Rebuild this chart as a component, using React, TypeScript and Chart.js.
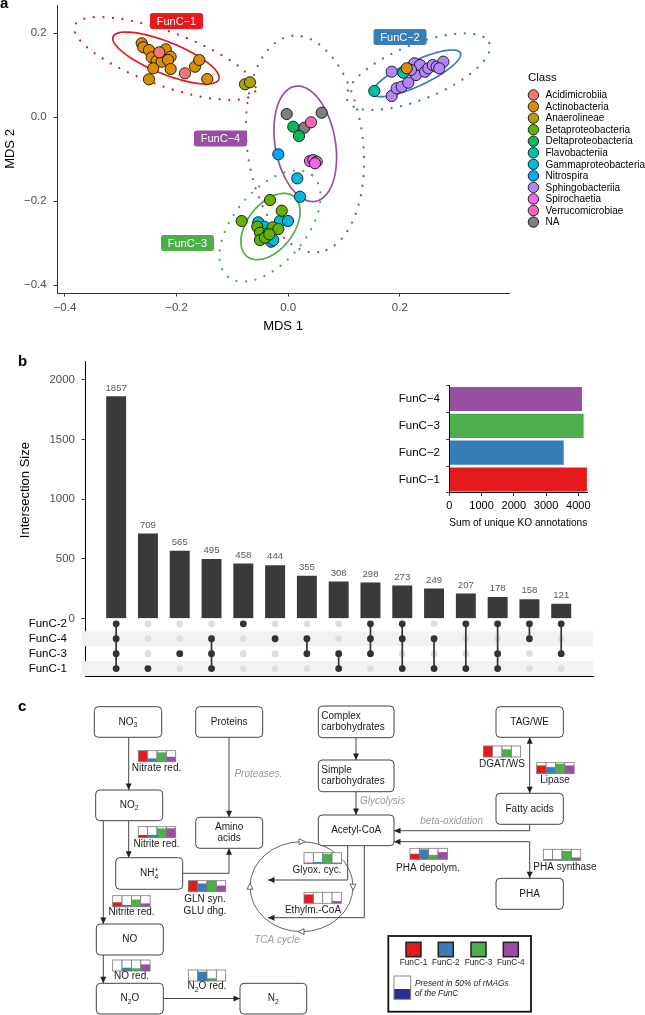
import React, { useEffect, useRef } from "react";
import { Chart, registerables } from "chart.js";

Chart.register(...registerables);

const FONT = "'Liberation Sans', Arial, Helvetica, sans-serif";
Chart.defaults.font.family = FONT;

// ================= Panel a : MDS ordination =================
const classNames = ["Acidimicrobiia", "Actinobacteria", "Anaerolineae", "Betaproteobacteria", "Deltaproteobacteria", "Flavobacteriia", "Gammaproteobacteria", "Nitrospira", "Sphingobacteriia", "Spirochaetia", "Verrucomicrobiae", "NA"];
const classColors = ["#F8766D", "#DB8E00", "#AEA200", "#64B200", "#00BD5C", "#00C1A7", "#00BADE", "#00A6FF", "#B385FF", "#EF67EB", "#FF63B6", "#7F7F7F"];

const acidimicrobiiaMDS = [[-0.231, 0.154], [-0.185, 0.104]];
const actinobacteriaMDS = [[-0.2625, 0.1755], [-0.2597, 0.166], [-0.2495, 0.1595], [-0.2405, 0.1398], [-0.2195, 0.1612], [-0.2106, 0.1436], [-0.2446, 0.1421], [-0.2357, 0.1333], [-0.2267, 0.1317], [-0.2154, 0.1357], [-0.2418, 0.116], [-0.2106, 0.1143], [-0.167, 0.1198], [-0.1593, 0.1357], [-0.2495, 0.0898], [-0.145, 0.0905], [0.2124, 0.116]];
const anaerolineaeMDS = [[-0.0774, 0.0779], [-0.0685, 0.0826]];
const betaproteobacteriaMDS = [[-0.0326, -0.1976], [-0.0833, -0.2476], [-0.0116, -0.2231], [-0.0554, -0.2612], [-0.0505, -0.2755], [-0.0357, -0.2769], [-0.0278, -0.2626], [-0.0177, -0.2667], [-0.0505, -0.2929], [-0.0416, -0.2874], [-0.0339, -0.2793]];
const deltaproteobacteriaMDS = [[0.0091, -0.0231], [0.0194, -0.0452]];
const flavobacteriiaMDS = [[0.1543, 0.0619], [0.2063, 0.1055]];
const gammaproteobacteriaMDS = [[0.0163, -0.146], [0.0211, -0.1898], [-0.0147, -0.2476], [-0.0004, -0.2476], [-0.0536, -0.2507], [-0.0428, -0.2612], [-0.0308, -0.2969], [-0.0267, -0.2929]];
const nitrospiraMDS = [[-0.0177, -0.0888]];
const sphingobacteriiaMDS = [[0.1855, 0.1079], [0.1855, 0.05], [0.1944, 0.0683], [0.2034, 0.0721], [0.2152, 0.0817], [0.229, 0.1], [0.226, 0.1279], [0.2362, 0.1238], [0.2452, 0.1079], [0.2511, 0.116], [0.259, 0.1238], [0.2661, 0.1198], [0.278, 0.1317], [0.2708, 0.116], [0.22, 0.112]];
const spirochaetiaMDS = [[0.0391, -0.1048], [0.045, -0.1024], [0.0511, -0.1064], [0.048, -0.1102]];
const verrucomicrobiaeMDS = [[0.0409, -0.0126]];
const unassignedMDS = [[-0.0027, 0.0071], [0.06, 0.0102], [0.0289, -0.0255]];
const classPoints = [acidimicrobiiaMDS, actinobacteriaMDS, anaerolineaeMDS, betaproteobacteriaMDS, deltaproteobacteriaMDS, flavobacteriiaMDS, gammaproteobacteriaMDS, nitrospiraMDS, sphingobacteriiaMDS, spirochaetiaMDS, verrucomicrobiaeMDS, unassignedMDS];

const mdsTickValues = [-0.4, -0.2, 0, 0.2];
const mdsTickLabels = ["\u22120.4", "\u22120.2", "0.0", "0.2"];

const funcNames = ["FunC\u22121", "FunC\u22122", "FunC\u22123", "FunC\u22124"];
const funcColors = ["#E41A1C", "#377EB8", "#4DAF4A", "#984EA3"];
const funcLabelX = [-0.2002, 0.2004, -0.1805, -0.1213];
const funcLabelY = [0.2286, 0.1905, -0.3, -0.0512];
// ellipse: centre x, centre y, first semi-axis (dx, dy), second semi-axis (dx, dy)
const coreEllipses = [
  [-0.219, 0.1405, 0.0947, -0.0508, -0.0107, -0.0353],
  [0.2303, 0.104, 0.0783, 0.0486, 0.00946, -0.027],
  [-0.0317, -0.2607, 0.0419, 0.0713, 0.0325, -0.0337],
  [0.0306, -0.0638, 0.01817, -0.1369, -0.0531, -0.01245],
];
const hullEllipses = [
  [-0.2208, 0.1393, 0.1617, -0.0782, -0.0165, -0.0604],
  [0.2332, 0.1079, 0.1271, 0.0682, 0.0184, -0.0605],
  [-0.0326, -0.2595, 0.076, 0.1204, 0.0494, -0.0551],
  [0.0301, -0.0643, 0.0238, -0.2576, -0.1032, -0.01683],
];

// ================= Panel b : UpSet =================
const intersectionSizes = [1857, 709, 565, 495, 458, 444, 355, 308, 298, 273, 249, 207, 178, 158, 121];
const intersectionTicks = [0, 500, 1000, 1500, 2000];
const matrixRows = ["FunC-2", "FunC-4", "FunC-3", "FunC-1"];
const stripedRows = ["FunC-4", "FunC-1"];
const intersectionMembers = [
  ["FunC-2", "FunC-4", "FunC-3", "FunC-1"],
  ["FunC-1"],
  ["FunC-3"],
  ["FunC-4", "FunC-3", "FunC-1"],
  ["FunC-2"],
  ["FunC-4"],
  ["FunC-4", "FunC-3"],
  ["FunC-3", "FunC-1"],
  ["FunC-2", "FunC-4", "FunC-3"],
  ["FunC-2", "FunC-4", "FunC-1"],
  ["FunC-4", "FunC-1"],
  ["FunC-2", "FunC-1"],
  ["FunC-2", "FunC-3", "FunC-1"],
  ["FunC-2", "FunC-4"],
  ["FunC-2", "FunC-3"],
];
const setNames = ["FunC\u22124", "FunC\u22123", "FunC\u22122", "FunC\u22121"];
const setSizes = [4114, 4166, 3548, 4268];
const setColors = ["#984EA3", "#4DAF4A", "#377EB8", "#E41A1C"];
const koTicks = [0, 1000, 2000, 3000, 4000];

// ================= Panel c : metabolic diagram =================
const nodeLabels = [["NO_3^\u2212"], ["Proteins"], ["Complex", "carbohydrates"], ["TAG/WE"], ["NO_2"], ["Simple", "carbohydrates"], ["Fatty acids"], ["Amino", "acids"], ["Acetyl-CoA"], ["NH_4^+"], ["PHA"], ["NO"], ["N_2O"], ["N_2"]];
const nodeLeftAligned = [false, false, true, false, false, true, false, false, false, false, false, false, false, false];
const nodeBoxes = [
  [94.3, 706.7, 67.4, 30.6], [195.7, 706.7, 67, 30.6], [318.3, 706, 75.7, 31.7], [496, 706.7, 67.3, 30.6],
  [95.7, 790, 67, 30.7], [318.3, 760, 75.7, 31.7], [496, 793.3, 67.3, 31], [195.7, 817.3, 67, 31],
  [318.3, 815, 75.7, 30.7], [115.7, 857.7, 67, 31.6], [496, 878.3, 67.3, 31], [96.3, 924, 67, 31],
  [96.3, 983.3, 67, 30.7], [240, 983.3, 66.7, 30.7],
];
const enzymeLabels = [["Nitrate red."], ["Nitrite red."], ["Nitrite red."], ["NO red."], ["N_2O red."], ["GLN syn.", "GLU dhg."], ["Glyox. cyc."], ["Ethylm.-CoA"], ["DGAT/WS"], ["Lipase"], ["PHA depolym."], ["PHA synthase"]];
// share of rMAGs per FunC (FunC-1, FunC-2, FunC-3, FunC-4)
const enzymeShares = [
  [1, 0.3, 0.85, 0.45],
  [0.25, 0.25, 0.85, 0.85],
  [0.4, 0.15, 0.65, 0.3],
  [0, 0.3, 0.25, 0.6],
  [0, 0.85, 0.25, 0],
  [1, 0.75, 1, 0.55],
  [0.1, 0.15, 0.9, 0.1],
  [0.8, 0, 0, 0.2],
  [1, 0, 0.7, 0],
  [0.75, 0.6, 0.9, 0.75],
  [0.5, 0.9, 0.4, 0.65],
  [0.1, 0.1, 0.85, 0.25],
];
const enzymeIconPos = [[138.3, 750.7], [138.3, 826.7], [112.7, 895.7], [112.7, 960], [188.3, 970], [188.3, 880.7], [304, 852.7], [304, 892.3], [483.3, 746], [536.7, 762.7], [410, 848.3], [543.3, 849.3]];
const enzymeTextPos = [[156.5, 768.7], [156.5, 844.3], [131.5, 912.7], [131.5, 976.7], [207, 986.7], [205, 899], [317, 870], [313, 910], [502, 764], [555, 780.7], [428, 868.3], [565, 867.3]];
const processLabels = ["Proteases.", "Glycolysis", "beta-oxidation", "TCA cycle"];
const processPos = [[258.3, 774, "c"], [360, 801.7, "l"], [451.7, 821.7, "c"], [277, 940, "c"]];
const links = [
  { pts: [[128.7, 737.3], [128.7, 790]], a: false, b: true },
  { pts: [[128.7, 820.7], [128.7, 857.7]], a: false, b: true },
  { pts: [[103.3, 820.7], [103.3, 924]], a: false, b: true },
  { pts: [[103.3, 955], [103.3, 983.3]], a: false, b: true },
  { pts: [[163.3, 998.5], [240, 998.5]], a: false, b: true },
  { pts: [[229, 737.3], [229, 817.3]], a: false, b: true },
  { pts: [[182.7, 873.3], [229, 873.3], [229, 848.3]], a: false, b: true },
  { pts: [[356, 737.7], [356, 760]], a: false, b: true },
  { pts: [[356, 791.7], [356, 815]], a: false, b: true },
  { pts: [[529.7, 737.3], [529.7, 793.3]], a: true, b: true },
  { pts: [[529.7, 824.3], [529.7, 830.7], [394, 830.7]], a: false, b: true },
  { pts: [[394, 841.7], [529.7, 841.7], [529.7, 878.3]], a: true, b: true },
  { pts: [[347.7, 845.7], [347.7, 880], [268, 880]], a: false, b: true },
  { pts: [[364.3, 845.7], [364.3, 917.7], [268, 917.7]], a: false, b: true },
];
const legendFuncNames = ["FunC-1", "FunC-2", "FunC-3", "FunC-4"];

// ================= helpers =================
const fixedTicks = (values: number[]) => (scale: any) => {
  scale.ticks = values.map((v) => ({ value: v }));
};
const fitTo = (dim: "width" | "height", size: number) => (s: any) => {
  s[dim] = size;
  s.paddingTop = 0;
  s.paddingBottom = 0;
  s.paddingLeft = 0;
  s.paddingRight = 0;
};

function roundRect(ctx: CanvasRenderingContext2D, x: number, y: number, w: number, h: number, r: number) {
  ctx.beginPath();
  ctx.moveTo(x + r, y);
  ctx.lineTo(x + w - r, y);
  ctx.arcTo(x + w, y, x + w, y + r, r);
  ctx.lineTo(x + w, y + h - r);
  ctx.arcTo(x + w, y + h, x + w - r, y + h, r);
  ctx.lineTo(x + r, y + h);
  ctx.arcTo(x, y + h, x, y + h - r, r);
  ctx.lineTo(x, y + r);
  ctx.arcTo(x, y, x + r, y, r);
  ctx.closePath();
}

function drawRich(ctx: CanvasRenderingContext2D, s: string, x: number, y: number, size: number, align: string, italic = false) {
  const segs: { t: string; m: number }[] = [];
  for (let i = 0; i < s.length; i++) {
    const c = s[i];
    if (c === "_") { segs.push({ t: s[i + 1], m: 1 }); i++; }
    else if (c === "^") { segs.push({ t: s[i + 1], m: 2 }); i++; }
    else if (segs.length && segs[segs.length - 1].m === 0) segs[segs.length - 1].t += c;
    else segs.push({ t: c, m: 0 });
  }
  const small = size * 0.68;
  const font = (m: number) => `${italic ? "italic " : ""}${m ? small : size}px ${FONT}`;
  let cx = 0;
  let prevStart = 0;
  let prevM = 0;
  const placed: { t: string; m: number; x: number }[] = [];
  for (const g of segs) {
    ctx.font = font(g.m);
    const w = ctx.measureText(g.t).width;
    if (g.m === 2 && prevM === 1) {
      placed.push({ ...g, x: prevStart });
      cx = Math.max(cx, prevStart + w);
    } else {
      placed.push({ ...g, x: cx });
      prevStart = cx;
      cx += w;
    }
    prevM = g.m;
  }
  const x0 = align === "c" ? x - cx / 2 : x;
  ctx.textAlign = "left";
  ctx.textBaseline = "middle";
  for (const p of placed) {
    ctx.font = font(p.m);
    const dy = p.m === 1 ? size * 0.32 : p.m === 2 ? -size * 0.38 : 0;
    ctx.fillText(p.t, x0 + p.x, y + dy);
  }
}

function arrowHead(ctx: CanvasRenderingContext2D, x0: number, y0: number, x1: number, y1: number, len = 6.5, half = 3) {
  const a = Math.atan2(y1 - y0, x1 - x0);
  ctx.beginPath();
  ctx.moveTo(x1, y1);
  ctx.lineTo(x1 - len * Math.cos(a) + half * Math.sin(a), y1 - len * Math.sin(a) - half * Math.cos(a));
  ctx.lineTo(x1 - len * Math.cos(a) - half * Math.sin(a), y1 - len * Math.sin(a) + half * Math.cos(a));
  ctx.closePath();
  ctx.fill();
}

// ================= plugins =================
const panelAPlugin = {
  id: "panelA",
  beforeDatasetsDraw(chart: any) {
    const { ctx } = chart;
    const xs = chart.scales.x;
    const ys = chart.scales.y;
    const draw = (e: number[], dotted: boolean, color: string) => {
      ctx.save();
      ctx.beginPath();
      for (let k = 0; k <= 160; k++) {
        const t = (k / 160) * Math.PI * 2;
        const px = xs.getPixelForValue(e[0] + e[2] * Math.cos(t) + e[4] * Math.sin(t));
        const py = ys.getPixelForValue(e[1] + e[3] * Math.cos(t) + e[5] * Math.sin(t));
        if (k === 0) ctx.moveTo(px, py);
        else ctx.lineTo(px, py);
      }
      ctx.strokeStyle = color;
      if (dotted) {
        ctx.setLineDash([0.01, 9.6]);
        ctx.lineCap = "round";
        ctx.lineWidth = 2.3;
      } else {
        ctx.lineWidth = 1.7;
      }
      ctx.stroke();
      ctx.restore();
    };
    hullEllipses.forEach((e, i) => draw(e, true, funcColors[i]));
    coreEllipses.forEach((e, i) => draw(e, false, funcColors[i]));
  },
  afterDatasetsDraw(chart: any) {
    const { ctx } = chart;
    const xs = chart.scales.x;
    const ys = chart.scales.y;
    ctx.save();
    funcNames.forEach((n, i) => {
      const cx = xs.getPixelForValue(funcLabelX[i]);
      const cy = ys.getPixelForValue(funcLabelY[i]);
      ctx.fillStyle = funcColors[i];
      roundRect(ctx, cx - 26.5, cy - 8, 53, 16, 2.5);
      ctx.fill();
      ctx.fillStyle = "#fff";
      ctx.font = `11px ${FONT}`;
      ctx.textAlign = "center";
      ctx.textBaseline = "middle";
      ctx.fillText(n, cx, cy + 0.5);
    });
    ctx.restore();
  },
  afterDraw(chart: any) {
    const { ctx } = chart;
    ctx.save();
    ctx.fillStyle = "#000";
    ctx.font = `bold 15px ${FONT}`;
    ctx.textAlign = "left";
    ctx.textBaseline = "alphabetic";
    ctx.fillText("a", 0, 8);
    ctx.font = `11.5px ${FONT}`;
    ctx.textBaseline = "middle";
    ctx.fillText("Class", 528, 78);
    classNames.forEach((n, i) => {
      const y = 95 + i * 11.55;
      ctx.beginPath();
      ctx.arc(533.4, y, 5.2, 0, Math.PI * 2);
      ctx.fillStyle = classColors[i];
      ctx.fill();
      ctx.strokeStyle = "#111";
      ctx.lineWidth = 0.9;
      ctx.stroke();
      ctx.fillStyle = "#000";
      ctx.font = `10px ${FONT}`;
      ctx.fillText(n, 545.5, y + 0.5);
    });
    ctx.restore();
  },
};

const barLabelPlugin = {
  id: "barLabels",
  afterDatasetsDraw(chart: any) {
    const { ctx } = chart;
    const meta = chart.getDatasetMeta(0);
    ctx.save();
    ctx.fillStyle = "#595959";
    ctx.font = `9.6px ${FONT}`;
    ctx.textAlign = "center";
    ctx.textBaseline = "bottom";
    meta.data.forEach((el: any, i: number) => {
      ctx.fillText(String(intersectionSizes[i]), el.x, el.y - 4);
    });
    ctx.fillStyle = "#000";
    ctx.font = `bold 15px ${FONT}`;
    ctx.textAlign = "left";
    ctx.textBaseline = "alphabetic";
    ctx.fillText("b", 18, 26);
    ctx.restore();
  },
};

const stripePlugin = {
  id: "stripes",
  beforeDatasetsDraw(chart: any) {
    const { ctx, chartArea } = chart;
    const ys = chart.scales.y;
    ctx.save();
    ctx.fillStyle = "#F2F2F2";
    stripedRows.forEach((r) => {
      const v = 4 - matrixRows.indexOf(r);
      const top = ys.getPixelForValue(v + 0.5);
      const bot = ys.getPixelForValue(v - 0.5);
      ctx.fillRect(chartArea.left - 3, top, chartArea.right - chartArea.left + 3, bot - top);
    });
    ctx.restore();
  },
};

const diagramPlugin = {
  id: "diagram",
  afterDraw(chart: any) {
    const { ctx } = chart;
    const X = (v: number) => chart.scales.x.getPixelForValue(v);
    const Y = (v: number) => chart.scales.y.getPixelForValue(v);
    ctx.save();
    // TCA cycle
    const ccx = X(301.5), ccy = Y(886.7), rx = X(353) - X(301.5), ry = Y(931.7) - Y(886.7);
    ctx.strokeStyle = "#555";
    ctx.lineWidth = 0.9;
    ctx.beginPath();
    ctx.ellipse(ccx, ccy, rx, ry, 0, 0, Math.PI * 2);
    ctx.stroke();
    [-Math.PI / 2, 0, Math.PI / 2, Math.PI].forEach((th) => {
      const px = ccx + rx * Math.cos(th);
      const py = ccy + ry * Math.sin(th);
      const tx = -rx * Math.sin(th);
      const ty = ry * Math.cos(th);
      const n = Math.hypot(tx, ty);
      ctx.beginPath();
      ctx.fillStyle = "#fff";
      const ux = tx / n, uy = ty / n;
      const tipx = px + ux * 3.5, tipy = py + uy * 3.5;
      ctx.moveTo(tipx, tipy);
      ctx.lineTo(tipx - ux * 6 + uy * 3, tipy - uy * 6 - ux * 3);
      ctx.lineTo(tipx - ux * 6 - uy * 3, tipy - uy * 6 + ux * 3);
      ctx.closePath();
      ctx.fill();
      ctx.stroke();
    });
    // links
    ctx.strokeStyle = "#444";
    ctx.fillStyle = "#222";
    ctx.lineWidth = 1;
    links.forEach((l) => {
      const p = l.pts.map(([x, y]) => [X(x), Y(y)]);
      ctx.beginPath();
      p.forEach(([x, y], i) => (i === 0 ? ctx.moveTo(x, y) : ctx.lineTo(x, y)));
      ctx.stroke();
      if (l.b) arrowHead(ctx, p[p.length - 2][0], p[p.length - 2][1], p[p.length - 1][0], p[p.length - 1][1]);
      if (l.a) arrowHead(ctx, p[1][0], p[1][1], p[0][0], p[0][1]);
    });
    // nodes
    nodeBoxes.forEach(([x, y, w, h], i) => {
      roundRect(ctx, X(x), Y(y), X(x + w) - X(x), Y(y + h) - Y(y), 4);
      ctx.fillStyle = "#fff";
      ctx.fill();
      ctx.strokeStyle = "#444";
      ctx.lineWidth = 1;
      ctx.stroke();
      ctx.fillStyle = "#1a1a1a";
      const lines = nodeLabels[i];
      const cy = y + h / 2;
      lines.forEach((t, k) => {
        const ly = cy + (k - (lines.length - 1) / 2) * 11.7;
        if (nodeLeftAligned[i]) drawRich(ctx, t, X(x + 3), Y(ly), 10, "l");
        else drawRich(ctx, t, X(x + w / 2), Y(ly), 10, "c");
      });
    });
    // enzyme icons
    const bw = 9.35, bh = 11;
    enzymeShares.forEach((sh, i) => {
      const [ix, iy] = enzymeIconPos[i];
      sh.forEach((f, k) => {
        const x0 = X(ix + k * bw), x1 = X(ix + (k + 1) * bw);
        const y0 = Y(iy), y1 = Y(iy + bh);
        ctx.fillStyle = "#fff";
        ctx.fillRect(x0, y0, x1 - x0, y1 - y0);
        if (f > 0) {
          ctx.fillStyle = funcColors[k];
          ctx.fillRect(x0, y1 - (y1 - y0) * f, x1 - x0, (y1 - y0) * f);
        }
        ctx.strokeStyle = "#777";
        ctx.lineWidth = 0.8;
        ctx.strokeRect(x0, y0, x1 - x0, y1 - y0);
      });
      ctx.fillStyle = "#1a1a1a";
      const [tx, ty] = enzymeTextPos[i];
      enzymeLabels[i].forEach((t, k) => drawRich(ctx, t, X(tx), Y(ty + k * 12), 10, "c"));
    });
    // process labels
    ctx.fillStyle = "#9a9a9a";
    processLabels.forEach((t, i) => {
      const [px, py, al] = processPos[i] as any;
      drawRich(ctx, t, X(px), Y(py), 10, al, true);
    });
    // legend box
    ctx.strokeStyle = "#111";
    ctx.lineWidth = 1.8;
    ctx.strokeRect(X(388.3), Y(936), X(531) - X(388.3), Y(1011.7) - Y(936));
    const sqx = [406, 438.3, 471, 503.3];
    legendFuncNames.forEach((n, k) => {
      ctx.fillStyle = funcColors[k];
      ctx.fillRect(X(sqx[k]), Y(942.3), 15, 14.4);
      ctx.strokeStyle = "#222";
      ctx.lineWidth = 1.5;
      ctx.strokeRect(X(sqx[k]), Y(942.3), 15, 14.4);
      ctx.fillStyle = "#222";
      ctx.font = `8.3px ${FONT}`;
      ctx.textAlign = "center";
      ctx.textBaseline = "middle";
      ctx.fillText(n, X(sqx[k] + 7.5), Y(962.7));
    });
    ctx.fillStyle = "#fff";
    ctx.fillRect(X(394), Y(976), 16.7, 23.3);
    ctx.fillStyle = "#2B2B96";
    ctx.fillRect(X(394), Y(989), 16.7, 10.3);
    ctx.strokeStyle = "#888";
    ctx.lineWidth = 1;
    ctx.strokeRect(X(394), Y(976), 16.7, 23.3);
    ctx.fillStyle = "#222";
    drawRich(ctx, "Present in 50% of rMAGs", X(415), Y(983.3), 8.3, "l", true);
    drawRich(ctx, "of the FunC", X(415), Y(993.3), 8.3, "l", true);
    // panel letter
    ctx.fillStyle = "#000";
    ctx.font = `bold 15px ${FONT}`;
    ctx.textAlign = "left";
    ctx.textBaseline = "alphabetic";
    ctx.fillText("c", X(18), Y(711));
    ctx.restore();
  },
};

const baseOpts = {
  responsive: false,
  animation: false as const,
  devicePixelRatio: 1,
  events: [] as any[],
};

// ================= component =================
export default function App() {
  const aRef = useRef<HTMLCanvasElement>(null);
  const bRef = useRef<HTMLCanvasElement>(null);
  const mRef = useRef<HTMLCanvasElement>(null);
  const iRef = useRef<HTMLCanvasElement>(null);
  const cRef = useRef<HTMLCanvasElement>(null);

  useEffect(() => {
    const charts: Chart[] = [];
    const tickFont = { size: 11.5 };

    charts.push(
      new Chart(aRef.current!, {
        type: "scatter",
        data: {
          datasets: classNames.map((n, i) => ({
            label: n,
            data: classPoints[i].map(([x, y]) => ({ x, y })),
            backgroundColor: classColors[i],
            borderColor: "#111",
            borderWidth: 0.9,
            pointRadius: 5.6,
          })),
        },
        options: {
          ...baseOpts,
          layout: { autoPadding: false, padding: { top: 5, right: 136, left: 0, bottom: 0 } },
          plugins: { legend: { display: false }, tooltip: { enabled: false } },
          scales: {
            x: {
              type: "linear", min: -0.4143, max: 0.3957,
              afterBuildTicks: fixedTicks(mdsTickValues),
              afterFit: fitTo("height", 42),
              ticks: { callback: (v: any) => mdsTickLabels[mdsTickValues.indexOf(v)], color: "#4D4D4D", font: tickFont, padding: 4.9, maxRotation: 0, autoSkip: false },
              grid: { drawOnChartArea: false, drawTicks: true, tickLength: 3.5, color: "#333" },
              border: { display: true, color: "#333", width: 1 },
              title: { display: true, text: "MDS 1", color: "#000", font: { size: 13 }, padding: { top: 0, bottom: 0.5 } },
            },
            y: {
              type: "linear", min: -0.419, max: 0.2667,
              afterBuildTicks: fixedTicks(mdsTickValues),
              afterFit: fitTo("width", 57),
              ticks: { callback: (v: any) => mdsTickLabels[mdsTickValues.indexOf(v)], color: "#4D4D4D", font: tickFont, padding: 6.8, autoSkip: false },
              grid: { drawOnChartArea: false, drawTicks: true, tickLength: 3.5, color: "#333" },
              border: { display: true, color: "#333", width: 1 },
              title: { display: true, text: "MDS 2", color: "#000", font: { size: 13 }, padding: { top: 2.2, bottom: 0 } },
            },
          },
        } as any,
        plugins: [panelAPlugin],
      })
    );

    charts.push(
      new Chart(bRef.current!, {
        type: "bar",
        data: {
          datasets: [{
            data: intersectionSizes.map((v, i) => ({ x: i, y: v })),
            backgroundColor: "#3A3A3A",
            barThickness: 19.3,
          }],
        },
        options: {
          ...baseOpts,
          layout: { autoPadding: false, padding: { top: 21.7, right: 52, left: 0, bottom: 11.5 } },
          plugins: { legend: { display: false }, tooltip: { enabled: false } },
          scales: {
            x: { type: "linear", min: -0.98, max: 15, display: false, offset: false },
            y: {
              type: "linear", min: 0, max: 2150,
              afterBuildTicks: fixedTicks(intersectionTicks),
              afterFit: fitTo("width", 85),
              ticks: { callback: (v: any) => String(v), color: "#4D4D4D", font: tickFont, padding: 6.5 },
              grid: { drawOnChartArea: false, drawTicks: true, tickLength: 3.5, color: "#333" },
              border: { display: true, color: "#000", width: 1 },
              title: { display: true, text: "Intersection Size", color: "#000", font: { size: 13 }, padding: { top: 17.2, bottom: 0 } },
            },
          },
        } as any,
        plugins: [barLabelPlugin],
      })
    );

    const rowValue = (r: string) => 4 - matrixRows.indexOf(r);
    const inactive: any[] = [];
    intersectionMembers.forEach((_, i) => matrixRows.forEach((r) => inactive.push({ x: i, y: rowValue(r) })));
    const active: any[] = [];
    intersectionMembers.forEach((m, i) => m.forEach((r) => active.push({ x: i, y: rowValue(r) })));
    const lineSets = intersectionMembers
      .map((m, i) => ({ m, i }))
      .filter(({ m }) => m.length > 1)
      .map(({ m, i }) => {
        const vals = m.map(rowValue);
        return {
          data: [{ x: i, y: Math.min(...vals) }, { x: i, y: Math.max(...vals) }],
          showLine: true, pointRadius: 0, borderColor: "#333", borderWidth: 1.7,
        };
      });

    charts.push(
      new Chart(mRef.current!, {
        type: "scatter",
        data: {
          datasets: [
            { data: active, backgroundColor: "#333", borderWidth: 0, pointRadius: 3.4 },
            ...lineSets,
            { data: inactive, backgroundColor: "#DEDEDE", borderWidth: 0, pointRadius: 3.4 },
          ] as any,
        },
        options: {
          ...baseOpts,
          layout: { autoPadding: false, padding: { top: 4.4, right: 52, left: 0, bottom: 0 } },
          plugins: { legend: { display: false }, tooltip: { enabled: false } },
          scales: {
            x: {
              type: "linear", min: -0.98, max: 15, offset: false,
              afterFit: fitTo("height", 4),
              ticks: { display: false },
              grid: { display: false },
              border: { display: true, color: "#000", width: 1 },
            },
            y: {
              type: "linear", min: 0.5, max: 4.5,
              afterBuildTicks: fixedTicks([1, 2, 3, 4]),
              afterFit: fitTo("width", 85),
              ticks: { callback: (v: any) => matrixRows[4 - v], color: "#000", font: { size: 11.5 }, padding: 10 },
              grid: { display: false },
              border: { display: true, color: "#000", width: 1 },
            },
          },
        } as any,
        plugins: [stripePlugin],
      })
    );

    charts.push(
      new Chart(iRef.current!, {
        type: "bar",
        data: {
          labels: setNames,
          datasets: [{ data: setSizes, backgroundColor: setColors, categoryPercentage: 1, barPercentage: 0.9 }],
        },
        options: {
          ...baseOpts,
          indexAxis: "y",
          layout: { autoPadding: false, padding: { top: 10.6, right: 32.7, left: 0, bottom: 0 } },
          plugins: { legend: { display: false }, tooltip: { enabled: false } },
          scales: {
            x: {
              type: "linear", min: 0, max: 4280,
              afterBuildTicks: fixedTicks(koTicks),
              afterFit: fitTo("height", 37.1),
              ticks: { callback: (v: any) => String(v), color: "#000", font: { size: 11 }, padding: 3.5 },
              grid: { drawOnChartArea: false, drawTicks: true, tickLength: 3, color: "#333" },
              border: { display: true, color: "#000", width: 1 },
              title: { display: true, text: "Sum of unique KO annotations", color: "#000", font: { size: 11.5 }, padding: { top: 0, bottom: 0.4 } },
            },
            y: {
              afterFit: fitTo("width", 69.3),
              ticks: { color: "#000", font: { size: 11.5 }, padding: 6.3 },
              grid: { drawOnChartArea: false, drawTicks: true, tickLength: 3, color: "#333" },
              border: { display: true, color: "#000", width: 1 },
            },
          },
        } as any,
      })
    );

    charts.push(
      new Chart(cRef.current!, {
        type: "scatter",
        data: { datasets: [{ data: [] }] },
        options: {
          ...baseOpts,
          layout: { autoPadding: false, padding: 0 },
          plugins: { legend: { display: false }, tooltip: { enabled: false } },
          scales: {
            x: { type: "linear", min: 0, max: 645, display: false },
            y: { type: "linear", min: 690, max: 1015, reverse: true, display: false },
          },
        } as any,
        plugins: [diagramPlugin],
      })
    );

    return () => charts.forEach((c) => c.destroy());
  }, []);

  const cv = (left: number, top: number, w: number, h: number): React.CSSProperties => ({
    position: "absolute", left, top, width: w, height: h,
  });

  return (
    <div style={{ position: "absolute", left: 0, top: 0, width: 645, height: 1015, background: "#fff", overflow: "hidden" }}>
      <canvas ref={aRef} width={645} height={335} style={cv(0, 0, 645, 335)} />
      <canvas ref={bRef} width={645} height={290} style={cv(0, 340, 645, 290)} />
      <canvas ref={mRef} width={645} height={68} style={cv(0, 612, 645, 68)} />
      <canvas ref={iRef} width={240} height={155} style={cv(380, 375, 240, 155)} />
      <canvas ref={cRef} width={645} height={325} style={cv(0, 690, 645, 325)} />
    </div>
  );
}
